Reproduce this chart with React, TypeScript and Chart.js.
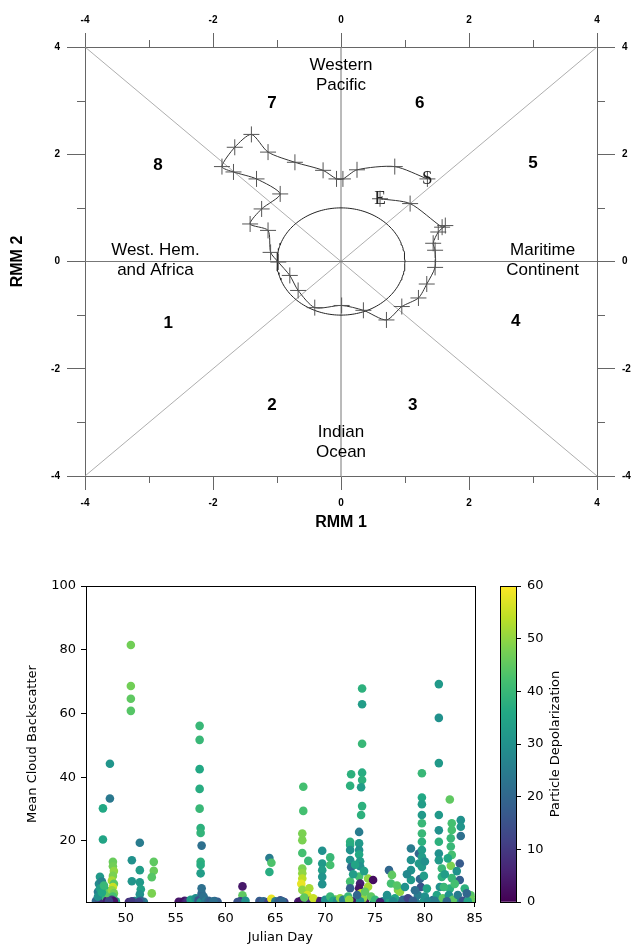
import React, { useEffect, useRef } from "react";
import { Chart, registerables } from "chart.js";

Chart.register(...registerables);

// ---------------- RMM phase diagram data ----------------
const rmm1 = [
  1.35, 0.84, 0.25, 0.03, -0.07, -0.28, -0.72, -1.14, -1.4, -1.66, -1.86, -1.68,
  -1.32, -0.95, -1.24, -1.42, -1.14, -1.1, -0.98, -0.8, -0.67, -0.41, 0.01, 0.35,
  0.71, 0.95, 1.21, 1.34, 1.47, 1.47, 1.44, 1.52, 1.63, 1.58, 1.08, 0.61,
];
const rmm2 = [
  1.54, 1.77, 1.71, 1.54, 1.54, 1.7, 1.85, 2.04, 2.37, 2.13, 1.77, 1.67,
  1.54, 1.26, 0.98, 0.7, 0.58, 0.17, -0.01, -0.26, -0.54, -0.86, -0.82, -0.91,
  -1.09, -0.84, -0.68, -0.42, -0.11, 0.21, 0.34, 0.55, 0.67, 0.64, 1.08, 1.17,
];
const rmmAxisTicks = [-4, -3, -2, -1, 0, 1, 2, 3, 4];
const rmmLabelledTicks = [-4, -2, 0, 2, 4];
const rmmLimit = 4;
const amplitudeRadius = 1;
const phaseNames = ["1", "2", "3", "4", "5", "6", "7", "8"];
const regionNames = [
  ["Western", "Pacific"],
  ["Indian", "Ocean"],
  ["West. Hem.", "and Africa"],
  ["Maritime", "Continent"],
];

// annotation anchors (data units) – layout only
const phaseAnchors = [
  [-2.7, -1.16], [-1.08, -2.69], [1.12, -2.69], [2.73, -1.12],
  [3.0, 1.83], [1.23, 2.95], [-1.08, 2.95], [-2.86, 1.79],
];
const regionAnchors = [[0, 3.48], [0, -3.38], [-2.9, 0.02], [3.15, 0.02]];

// ---------------- Scatter data: [julian day, mean cloud backscatter, particle depolarization] ----------------
const obsDays47to49 = [
  [47.4, 8.7, 32], [47.3, 6.5, 28], [47.6, 5.5, 35], [47.2, 4.0, 25], [47.5, 3.0, 30],
  [47.8, 2.0, 20], [47.3, 1.5, 15], [47.7, 1.0, 8], [47.9, 2.5, 40], [47.6, 7.2, 26],
  [47.7, 20.4, 35], [47.7, 30.2, 36], [48.4, 33.3, 24], [48.4, 44.2, 31], [48.0, 4.5, 38],
  [48.1, 1.2, 5], [48.2, 3.5, 45], [48.7, 13.4, 46], [48.7, 12.0, 47], [48.8, 10.5, 50],
  [48.7, 9.0, 48], [48.6, 7.5, 52], [48.8, 6.5, 44], [48.7, 5.5, 55], [48.6, 4.5, 50],
  [48.8, 3.5, 47], [48.7, 2.5, 42], [48.6, 1.5, 10], [48.8, 1.0, 3], [48.3, 1.0, 12],
  [47.2, 2.5, 30], [47.4, 5.0, 33], [47.6, 3.8, 36], [47.8, 6.0, 40],
];
const obsDays50to53 = [
  [50.5, 81.5, 47], [50.5, 68.6, 47], [50.5, 64.6, 45], [50.5, 60.8, 44], [50.6, 13.9, 30],
  [50.6, 7.3, 31], [50.6, 1.0, 10], [51.4, 19.4, 25], [51.4, 10.8, 33], [51.4, 7.0, 32],
  [51.5, 4.8, 34], [51.4, 3.2, 30], [51.5, 1.2, 20], [51.3, 0.8, 12], [52.8, 13.4, 45],
  [52.8, 10.6, 46], [52.6, 8.6, 44], [52.6, 3.5, 48],
];
const obsDays55to59 = [
  [55.5, 0.8, 4], [55.8, 0.9, 2], [56.0, 0.6, 5], [56.2, 1.0, 8], [56.5, 1.5, 33],
  [56.8, 1.2, 36], [57.0, 2.0, 30], [57.2, 1.8, 28], [57.3, 1.3, 15], [57.5, 0.8, 30],
  [57.6, 3.5, 20], [57.6, 5.1, 22], [57.8, 2.5, 22], [58.0, 1.0, 25], [58.3, 1.2, 20],
  [58.5, 0.9, 18], [58.8, 1.0, 22], [57.4, 56.1, 40], [57.4, 51.7, 40], [57.4, 42.5, 36],
  [57.4, 36.3, 37], [57.4, 30.1, 40], [57.5, 24.0, 38], [57.5, 22.5, 39], [57.6, 18.5, 22],
  [57.5, 13.4, 38], [57.5, 12.4, 37], [57.5, 9.8, 33],
];
const obsDays61to66 = [
  [61.7, 5.7, 4], [61.7, 2.9, 45], [61.5, 1.0, 10], [61.2, 0.8, 15], [62.0, 1.2, 30],
  [63.5, 0.8, 15], [63.8, 1.0, 20], [64.3, 0.8, 12], [64.6, 1.8, 58], [65.0, 1.0, 25],
  [65.3, 0.9, 18], [65.7, 1.0, 20], [64.4, 14.6, 25], [64.6, 13.1, 43], [64.4, 10.2, 37],
];
const obsDays67to71 = [
  [67.8, 37.0, 42], [67.8, 29.4, 42], [67.7, 22.3, 48], [67.7, 20.2, 48], [67.7, 16.2, 42],
  [68.3, 13.7, 40], [67.7, 11.3, 48], [67.7, 9.8, 50], [67.7, 8.2, 54], [67.6, 6.5, 58],
  [67.7, 4.6, 50], [68.4, 5.1, 52], [68.2, 3.0, 56], [67.5, 1.0, 3], [68.5, 1.2, 8],
  [68.8, 2.0, 55], [67.9, 2.2, 45], [69.7, 16.9, 30], [70.5, 14.8, 40], [69.7, 12.9, 32],
  [69.7, 10.8, 33], [69.7, 8.7, 31], [69.7, 6.4, 30], [70.5, 12.4, 42], [69.5, 1.0, 5],
  [70.0, 1.5, 30], [70.5, 2.5, 40], [70.8, 1.2, 35], [71.2, 1.0, 28], [71.5, 2.0, 50],
  [71.8, 1.5, 25],
];
const obsDays72to75 = [
  [72.6, 40.9, 38], [72.5, 37.3, 38], [72.5, 19.7, 38], [72.5, 18.7, 37], [72.5, 17.1, 30],
  [72.5, 14.0, 30], [72.6, 11.7, 20], [72.5, 7.2, 42], [72.5, 5.1, 18], [72.3, 2.5, 40],
  [72.7, 1.0, 3], [72.4, 1.5, 50], [73.7, 67.8, 38], [73.7, 62.9, 33], [73.7, 50.5, 40],
  [73.7, 41.4, 37], [73.7, 39.1, 38], [73.6, 36.8, 33], [73.7, 30.9, 38], [73.6, 28.1, 38],
  [73.4, 22.8, 25], [73.4, 19.2, 32], [73.4, 17.1, 30], [73.4, 15.7, 36], [73.5, 13.6, 33],
  [73.5, 12.0, 30], [73.4, 8.8, 42], [73.5, 6.6, 5], [73.4, 5.1, 3], [73.6, 3.5, 55],
  [73.8, 2.0, 50], [73.5, 1.0, 30], [74.3, 8.2, 50], [74.8, 7.7, 2], [74.3, 5.6, 52],
  [74.6, 2.5, 45], [75.0, 1.5, 40], [75.5, 0.8, 5],
  [72.8, 9.5, 33], [73.0, 12.5, 35], [73.9, 10.5, 34], [74.0, 4.0, 45], [73.2, 3.0, 20],
];
const obsDays76to80 = [
  [76.4, 10.8, 20], [76.7, 9.3, 45], [76.6, 6.6, 42], [77.3, 4.6, 48], [76.2, 3.0, 30],
  [77.0, 2.0, 35], [77.5, 4.0, 50], [77.8, 1.5, 20], [76.8, 1.0, 28], [78.6, 17.6, 25],
  [78.6, 14.0, 30], [78.6, 10.8, 30], [78.6, 7.7, 32], [79.4, 16.0, 20], [79.4, 12.9, 32],
  [79.7, 41.2, 40], [79.7, 33.6, 36], [79.7, 31.5, 33], [79.7, 28.1, 32], [79.7, 25.5, 40],
  [79.7, 22.3, 40], [79.7, 19.7, 38], [79.7, 17.1, 33], [79.7, 15.0, 33], [79.7, 11.8, 32],
  [79.5, 8.0, 20], [79.6, 5.5, 15], [79.3, 3.0, 25], [78.3, 2.0, 12], [78.8, 1.2, 18],
  [80.0, 2.5, 30], [80.3, 1.0, 28], [79.0, 4.5, 22],
  [77.2, 6.0, 44], [78.0, 5.5, 30], [78.2, 9.5, 28], [79.9, 9.0, 33], [80.2, 5.0, 35],
  [80.0, 13.5, 30],
];
const obsDays81to85 = [
  [81.4, 69.2, 32], [81.4, 58.6, 30], [81.4, 44.4, 32], [81.4, 28.1, 32], [81.4, 23.3, 30],
  [81.4, 19.7, 38], [81.4, 16.0, 30], [81.4, 13.9, 32], [81.7, 11.3, 40], [81.7, 8.7, 38],
  [81.5, 5.5, 30], [81.2, 3.0, 35], [81.0, 1.2, 25], [81.8, 2.0, 45], [82.5, 33.0, 45],
  [82.7, 25.5, 42], [82.7, 23.4, 42], [82.6, 20.8, 40], [82.6, 18.2, 40], [82.7, 15.6, 42],
  [82.6, 12.2, 48], [82.7, 8.3, 40], [82.5, 5.0, 38], [82.4, 3.0, 30], [82.8, 1.5, 45],
  [82.2, 1.0, 20], [83.6, 26.5, 30], [83.6, 24.4, 31], [83.6, 21.5, 22], [83.5, 12.9, 17],
  [83.5, 7.7, 18], [83.3, 3.0, 25], [83.8, 1.2, 15], [84.6, 2.9, 44], [84.8, 1.5, 46],
  [84.3, 1.0, 35],
  [81.9, 5.5, 40], [82.0, 9.5, 33], [82.3, 14.5, 36], [83.0, 6.5, 42], [83.2, 10.5, 30],
  [84.0, 5.0, 38], [84.2, 3.5, 20],
];
const obsNearSurface = [
  [47.0, 1.2, 20], [47.4, 0.9, 28], [47.9, 0.8, 2], [48.2, 0.7, 15], [49.0, 1.0, 35],
  [50.3, 0.8, 8], [50.9, 1.1, 30], [51.8, 0.9, 25], [55.3, 0.9, 3], [55.9, 1.2, 6],
  [56.4, 0.9, 35], [56.9, 1.0, 32], [57.9, 1.5, 28], [58.2, 0.8, 22], [58.9, 1.1, 20],
  [59.2, 0.9, 18], [61.6, 1.3, 40], [61.9, 0.7, 8], [63.4, 1.1, 18], [64.0, 0.8, 30],
  [64.8, 1.1, 22], [65.5, 1.3, 15], [65.9, 0.8, 12], [67.3, 0.9, 5], [67.7, 1.5, 45],
  [68.0, 1.0, 28], [68.9, 0.9, 8], [69.3, 1.1, 6], [69.9, 0.8, 20], [70.3, 1.0, 38],
  [71.0, 1.6, 45], [71.4, 0.8, 30], [72.0, 1.2, 32], [72.9, 0.9, 8], [73.2, 1.5, 45],
  [74.0, 1.0, 3], [74.9, 1.3, 30], [75.3, 0.8, 18], [75.8, 1.0, 28], [76.5, 1.5, 35],
  [77.1, 0.8, 22], [77.6, 1.0, 15], [78.0, 0.9, 20], [78.5, 1.3, 10], [79.1, 0.8, 25],
  [79.9, 1.2, 32], [80.6, 0.9, 30], [80.8, 1.4, 22], [81.6, 0.8, 30], [82.0, 1.3, 40],
  [82.9, 0.9, 12], [83.1, 1.1, 28], [84.0, 0.9, 32], [84.5, 1.3, 42], [84.9, 0.8, 38],
];

const dayTicks = [50, 55, 60, 65, 70, 75, 80, 85];
const backscatterTicks = [20, 40, 60, 80, 100];
const depolTicks = [0, 10, 20, 30, 40, 50, 60];
const dayRange = [46, 85];
const backscatterRange = [0.8, 100];
const depolRange = [0, 60];

// ---------------- colour map ----------------
const viridisStops = [
  "#440154", "#482475", "#414487", "#355f8d", "#2a788e", "#21918c",
  "#22a884", "#44bf70", "#7ad151", "#bddf26", "#fde725",
];
function hexRgb(h: string) {
  const n = parseInt(h.slice(1), 16);
  return [(n >> 16) & 255, (n >> 8) & 255, n & 255];
}
function viridis(t: number) {
  const c = Math.max(0, Math.min(1, t)) * (viridisStops.length - 1);
  const i = Math.min(viridisStops.length - 2, Math.floor(c));
  const f = c - i;
  const a = hexRgb(viridisStops[i]);
  const b = hexRgb(viridisStops[i + 1]);
  const m = a.map((v, k) => Math.round(v + (b[k] - v) * f));
  return `rgb(${m[0]},${m[1]},${m[2]})`;
}

const SANS = "'Liberation Sans', Arial, sans-serif";
const MPL = "'DejaVu Sans', sans-serif";

function rmmScale(position: string, size: number) {
  const horizontal = position === "top" || position === "bottom";
  return {
    type: "linear",
    axis: horizontal ? "x" : "y",
    position,
    min: -rmmLimit,
    max: rmmLimit,
    afterBuildTicks: (s: any) => {
      s.ticks = rmmAxisTicks.map((v) => ({ value: v }));
    },
    afterFit: (s: any) => {
      if (horizontal) s.height = size;
      else s.width = size;
    },
    ticks: {
      autoSkip: false,
      maxRotation: 0,
      padding: 7,
      color: "#000",
      font: { family: SANS, size: 10, weight: "bold" },
      callback: (v: number) => (rmmLabelledTicks.includes(v) ? String(v) : ""),
    },
    grid: {
      drawOnChartArea: false,
      drawTicks: true,
      tickLength: horizontal ? 14 : 18,
      tickWidth: 1,
      tickColor: (ctx: any) =>
        ctx.tick && rmmLabelledTicks.includes(ctx.tick.value) ? "#666" : "rgba(0,0,0,0)",
    },
    border: { display: true, color: "#666", width: 1 },
  } as any;
}

const rmmDecor = {
  id: "rmmDecor",
  afterDraw(chart: any) {
    const { ctx, scales, chartArea: a } = chart;
    const xs = scales.x;
    const ys = scales.y;
    ctx.save();
    ctx.strokeStyle = "#666";
    ctx.lineWidth = 1;
    const seg = (x1: number, y1: number, x2: number, y2: number) => {
      ctx.beginPath();
      ctx.moveTo(x1, y1);
      ctx.lineTo(x2, y2);
      ctx.stroke();
    };
    rmmAxisTicks
      .filter((v) => !rmmLabelledTicks.includes(v))
      .forEach((v) => {
        const px = Math.round(xs.getPixelForValue(v)) + 0.5;
        const py = Math.round(ys.getPixelForValue(v)) + 0.5;
        seg(px, a.top, px, a.top - 7);
        seg(px, a.bottom, px, a.bottom + 7);
        seg(a.left, py, a.left - 8, py);
        seg(a.right, py, a.right + 8, py);
      });
    ctx.fillStyle = "#000";
    ctx.textAlign = "center";
    ctx.textBaseline = "middle";
    ctx.font = `bold 17px ${SANS}`;
    phaseNames.forEach((n, i) => {
      ctx.fillText(n, xs.getPixelForValue(phaseAnchors[i][0]), ys.getPixelForValue(phaseAnchors[i][1]));
    });
    ctx.font = `17px ${SANS}`;
    regionNames.forEach((lines, i) => {
      const cx = xs.getPixelForValue(regionAnchors[i][0]);
      const cy = ys.getPixelForValue(regionAnchors[i][1]);
      ctx.fillText(lines[0], cx, cy - 10);
      ctx.fillText(lines[1], cx, cy + 10);
    });
    ctx.font = `19px 'Liberation Serif', 'DejaVu Serif', serif`;
    ctx.fillStyle = "#222";
    const last = rmm1.length - 1;
    ctx.fillText("S", xs.getPixelForValue(rmm1[0]), ys.getPixelForValue(rmm2[0]));
    ctx.fillText("E", xs.getPixelForValue(rmm1[last]), ys.getPixelForValue(rmm2[last]));
    ctx.restore();
  },
};

const frameDecor = {
  id: "frameDecor",
  afterDraw(chart: any) {
    const { ctx, chartArea: a } = chart;
    ctx.save();
    ctx.strokeStyle = "#000";
    ctx.lineWidth = 1;
    ctx.strokeRect(Math.round(a.left) + 0.5, Math.round(a.top) + 0.5, Math.round(a.right - a.left), Math.round(a.bottom - a.top));
    ctx.restore();
  },
};

const colorbarTitle = {
  id: "colorbarTitle",
  afterDraw(chart: any) {
    const { ctx, chartArea: a } = chart;
    ctx.save();
    ctx.translate(76, (a.top + a.bottom) / 2);
    ctx.rotate(-Math.PI / 2);
    ctx.fillStyle = "#000";
    ctx.font = `13px ${MPL}`;
    ctx.textAlign = "center";
    ctx.textBaseline = "middle";
    ctx.fillText("Particle Depolarization", 0, 0);
    ctx.restore();
  },
};

export default function App() {
  const topRef = useRef<HTMLCanvasElement>(null);
  const botRef = useRef<HTMLCanvasElement>(null);
  const cbRef = useRef<HTMLCanvasElement>(null);

  useEffect(() => {
    const charts: Chart[] = [];

    // ---------- RMM phase diagram ----------
    const refLine = (pts: { x: number; y: number }[], color: string, width: number) => ({
      data: pts,
      showLine: true,
      borderColor: color,
      borderWidth: width,
      pointRadius: 0,
      fill: false,
      tension: 0,
      order: 5,
    });
    const L = rmmLimit;
    const circlePts = Array.from({ length: 181 }, (_, i) => {
      const t = (i / 180) * 2 * Math.PI;
      return { x: amplitudeRadius * Math.cos(t), y: amplitudeRadius * Math.sin(t) };
    });
    charts.push(
      new Chart(topRef.current as HTMLCanvasElement, {
        type: "scatter",
        data: {
          datasets: [
            refLine([{ x: -L, y: 0 }, { x: L, y: 0 }], "#777", 1),
            refLine([{ x: 0, y: -L }, { x: 0, y: L }], "#777", 1),
            refLine([{ x: -L, y: -L }, { x: L, y: L }], "#999", 0.8),
            refLine([{ x: -L, y: L }, { x: L, y: -L }], "#999", 0.8),
            { ...refLine(circlePts, "#222", 1), order: 4 },
            {
              data: rmm1.map((x, i) => ({ x, y: rmm2[i] })),
              showLine: true,
              borderColor: "#333",
              borderWidth: 1,
              tension: 0.25,
              pointStyle: "cross",
              pointRadius: 8,
              pointBorderColor: "#555",
              pointBorderWidth: 1,
              pointBackgroundColor: "rgba(0,0,0,0)",
              order: 1,
            },
          ] as any,
        },
        options: {
          animation: false,
          responsive: false,
          events: [],
          layout: { padding: 0 },
          plugins: { legend: { display: false }, tooltip: { enabled: false } },
          scales: {
            x: {
              ...rmmScale("bottom", 69),
              title: {
                display: true,
                text: "RMM 1",
                color: "#000",
                font: { family: SANS, size: 16, weight: "bold" },
                padding: { top: 0, bottom: 13 },
              },
            },
            x2: rmmScale("top", 47),
            y: {
              ...rmmScale("left", 85),
              title: {
                display: true,
                text: "RMM 2",
                color: "#000",
                font: { family: SANS, size: 16, weight: "bold" },
                padding: { top: 8, bottom: 0 },
              },
            },
            y2: rmmScale("right", 36),
          } as any,
        },
        plugins: [rmmDecor],
      } as any)
    );

    // ---------- scatter ----------
    const allObs = [
      ...obsNearSurface,
      ...obsDays47to49, ...obsDays50to53, ...obsDays55to59, ...obsDays61to66,
      ...obsDays67to71, ...obsDays72to75, ...obsDays76to80, ...obsDays81to85,
    ];
    const mplTicks = { family: MPL, size: 13 };
    charts.push(
      new Chart(botRef.current as HTMLCanvasElement, {
        type: "scatter",
        data: {
          datasets: [
            {
              data: allObs.map((o) => ({ x: o[0], y: o[1] })),
              backgroundColor: allObs.map((o) => viridis((o[2] - depolRange[0]) / (depolRange[1] - depolRange[0]))),
              borderWidth: 0,
              pointRadius: 4.3,
              clip: 0,
            },
          ] as any,
        },
        options: {
          animation: false,
          responsive: false,
          events: [],
          layout: { padding: { top: 41, right: 0, left: 0, bottom: 0 } },
          plugins: { legend: { display: false }, tooltip: { enabled: false } },
          scales: {
            x: {
              type: "linear",
              min: dayRange[0],
              max: dayRange[1],
              afterBuildTicks: (s: any) => {
                s.ticks = dayTicks.map((v) => ({ value: v }));
              },
              afterFit: (s: any) => {
                s.height = 43;
              },
              ticks: { autoSkip: false, maxRotation: 0, padding: 4, color: "#000", font: mplTicks },
              grid: { drawOnChartArea: false, tickLength: 5, tickColor: "#000", color: "#000" },
              border: { display: true, color: "#000", width: 1 },
              title: {
                display: true,
                text: "Julian Day",
                color: "#000",
                font: { family: MPL, size: 13, lineHeight: 1.1 },
                padding: 0,
              },
            },
            y: {
              type: "linear",
              min: backscatterRange[0],
              max: backscatterRange[1],
              afterBuildTicks: (s: any) => {
                s.ticks = backscatterTicks.map((v) => ({ value: v }));
              },
              afterFit: (s: any) => {
                s.width = 86;
              },
              ticks: { autoSkip: false, padding: 5, color: "#000", font: mplTicks },
              grid: { drawOnChartArea: false, tickLength: 5, tickColor: "#000", color: "#000" },
              border: { display: true, color: "#000", width: 1 },
              title: {
                display: true,
                text: "Mean Cloud Backscatter",
                color: "#000",
                font: { family: MPL, size: 13 },
                padding: { top: 25, bottom: 0 },
              },
            },
          } as any,
        },
        plugins: [frameDecor],
      } as any)
    );

    // ---------- colour bar ----------
    charts.push(
      new Chart(cbRef.current as HTMLCanvasElement, {
        type: "bar",
        data: {
          labels: [""],
          datasets: [
            {
              data: [[depolRange[0], depolRange[1]]],
              borderWidth: 0,
              barPercentage: 1,
              categoryPercentage: 1,
              backgroundColor: (ctx: any) => {
                const a = ctx.chart.chartArea;
                if (!a) return viridisStops[5];
                const g = ctx.chart.ctx.createLinearGradient(0, a.bottom, 0, a.top);
                viridisStops.forEach((c, i) => g.addColorStop(i / (viridisStops.length - 1), c));
                return g;
              },
            },
          ] as any,
        },
        options: {
          animation: false,
          responsive: false,
          events: [],
          layout: { padding: { left: 20, top: 41, bottom: 43, right: 0 } },
          plugins: { legend: { display: false }, tooltip: { enabled: false } },
          scales: {
            x: { display: false },
            y: {
              type: "linear",
              position: "right",
              min: depolRange[0],
              max: depolRange[1],
              afterBuildTicks: (s: any) => {
                s.ticks = depolTicks.map((v) => ({ value: v }));
              },
              afterFit: (s: any) => {
                s.width = 117;
              },
              ticks: { autoSkip: false, padding: 6, color: "#000", font: mplTicks },
              grid: { drawOnChartArea: false, tickLength: 5, tickColor: "#000", color: "#000" },
              border: { display: false },
            },
          } as any,
        },
        plugins: [frameDecor, colorbarTitle],
      } as any)
    );

    return () => charts.forEach((c) => c.destroy());
  }, []);

  return (
    <div style={{ position: "absolute", left: 0, top: 0, width: 633, height: 945, background: "#fff", overflow: "hidden" }}>
      <canvas ref={topRef} width={633} height={545} style={{ position: "absolute", left: 0, top: 0 }} />
      <canvas ref={botRef} width={487} height={400} style={{ position: "absolute", left: 0, top: 545 }} />
      <canvas ref={cbRef} width={153} height={400} style={{ position: "absolute", left: 480, top: 545 }} />
    </div>
  );
}
